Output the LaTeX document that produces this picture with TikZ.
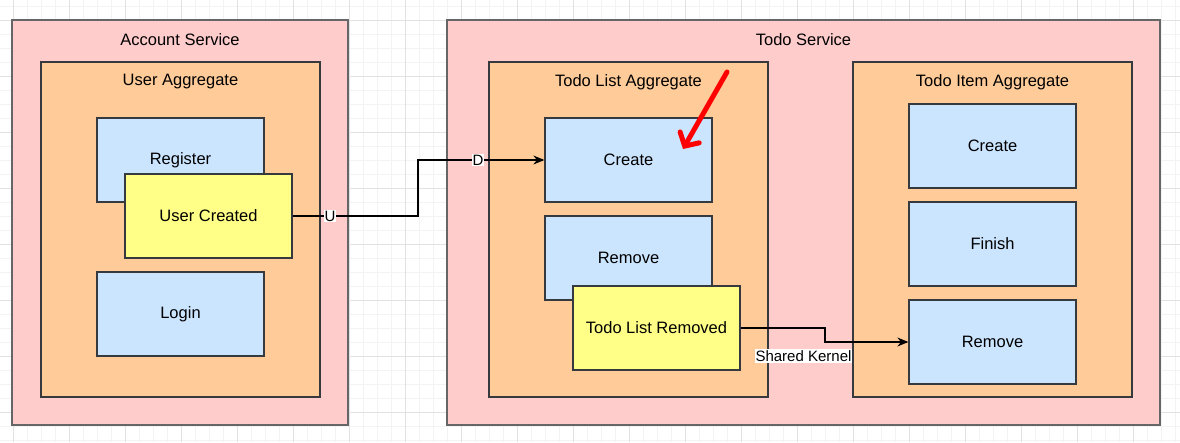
\documentclass[tikz,border=0pt]{standalone}
\usepackage{fontspec}
\setmainfont{Liberation Sans}
\usetikzlibrary{arrows.meta}
\definecolor{pinkbg}{HTML}{FFCCCC}
\definecolor{orangebg}{HTML}{FFCC99}
\definecolor{bluebg}{HTML}{CCE5FF}
\definecolor{yellowbg}{HTML}{FFFF88}
\definecolor{edge}{HTML}{36393D}
\definecolor{outeredge}{HTML}{666666}
\definecolor{gridminor}{HTML}{F3F3F3}
\definecolor{gridmajor}{HTML}{E2E2E2}
\tikzset{
  service/.style={draw=outeredge, line width=1.6pt, fill=pinkbg, rectangle, inner sep=0pt},
  aggr/.style={draw=edge, line width=1.4pt, fill=orangebg, rectangle, inner sep=0pt, minimum width=279pt, minimum height=335pt},
  cmd/.style={draw=edge, line width=1.3pt, fill=bluebg, rectangle, inner sep=0pt, minimum width=167pt, minimum height=84pt, font=\fontsize{16.5}{19}\selectfont},
  evt/.style={cmd, fill=yellowbg},
  ttl/.style={inner sep=0pt, font=\fontsize{16.5}{19}\selectfont},
  conn/.style={draw=black, line width=1.3pt, -{Stealth[length=11pt, width=9pt]}},
  lbl/.style={fill=white, inner sep=1pt, font=\fontsize{15}{17}\selectfont},
}
\begin{document}
\begin{tikzpicture}[x=1pt, y=-1pt]
\useasboundingbox (0,0) rectangle (1180,442);
\fill[white] (0,0) rectangle (1180,442);
% grid
\foreach \gx in {-1,...,84} {
  \draw[gridminor, line width=0.8pt] ({13+14*\gx},0) -- ({13+14*\gx},442);
}
\foreach \gy in {-1,...,31} {
  \draw[gridminor, line width=0.8pt] (0,{20+14*\gy}) -- (1180,{20+14*\gy});
}
\foreach \gx in {0,...,21} {
  \draw[gridmajor, line width=0.9pt] ({13+56*\gx},0) -- ({13+56*\gx},442);
}
\foreach \gy in {-1,...,8} {
  \draw[gridmajor, line width=0.9pt] (0,{20+56*\gy}) -- (1180,{20+56*\gy});
}

% Account service
\node[service, minimum width=336pt, minimum height=405pt] (acct) at (180,222.5) {};
\node[ttl] (acctT) at (180,40) {Account Service};
\node[aggr] (uagg) at (180.5,229.5) {};
\node[ttl] (uaggT) at (180.5,82) {User Aggregate};
\node[cmd] (reg) at (180.5,160) {Register};
\node[evt] (uc) at (208.5,216) {User Created};
\node[cmd] (login) at (180.5,314) {Login};

% Todo service
\node[service, minimum width=713pt, minimum height=405pt] (todo) at (803.5,222.5) {};
\node[ttl] (todoT) at (803.5,40) {Todo Service};
\node[aggr] (tlagg) at (628.5,229.5) {};
\node[ttl] (tlaggT) at (628.5,82) {Todo List Aggregate};
\node[cmd] (cr1) at (628.5,160) {Create};
\node[cmd] (rm1) at (628.5,258) {Remove};
\node[evt] (tlr) at (656.5,328) {Todo List Removed};
\node[aggr] (tiagg) at (992.5,229.5) {};
\node[ttl] (tiaggT) at (992.5,82) {Todo Item Aggregate};
\node[cmd] (cr2) at (992.5,146) {Create};
\node[cmd] (fin) at (992.5,244) {Finish};
\node[cmd] (rm2) at (992.5,342) {Remove};

% connectors
\coordinate (b1) at (418,216);
\draw[conn] (uc.east) -- (b1) |- (cr1.west);
\node[lbl] (lu) at (330,216) {U};
\node[lbl] (ld) at (478,160) {D};

\coordinate (b2) at (825,328);
\draw[conn] (tlr.east) -- (b2) |- (rm2.west);
\node[lbl] (lsk) at (803.5,356) {Shared Kernel};

% red arrow
\coordinate (ra1) at (727,72);
\coordinate (ra2) at (683,149);
\draw[red, line width=5pt, line cap=round, line join=round, -{Straight Barb[length=10pt, width=22pt, line cap=round]}] (ra1) -- (ra2);
\end{tikzpicture}
\end{document}
